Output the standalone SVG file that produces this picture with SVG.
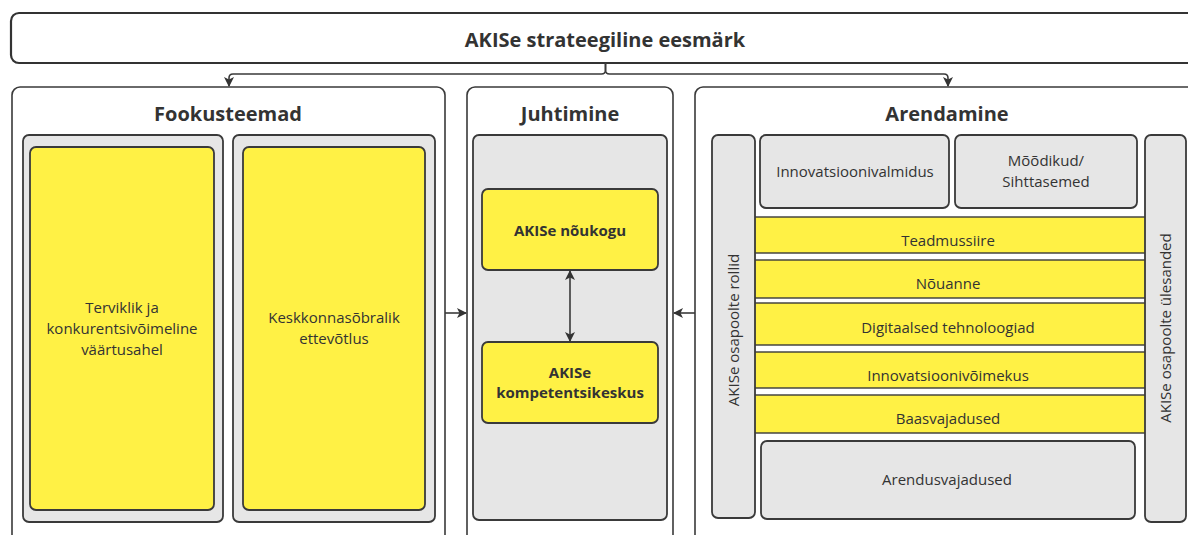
<svg xmlns="http://www.w3.org/2000/svg" width="1188" height="535" viewBox="0 0 1188 535">
<defs>
<marker id="ah" viewBox="0 0 10 10" refX="9" refY="5" markerWidth="10" markerHeight="10" markerUnits="userSpaceOnUse" orient="auto-start-reverse">
<path d="M0,0 L10,5 L0,10 L2.5,5 Z" fill="#333"/>
</marker>
<style>
.panel{fill:#fff;stroke:#3a3a3a;stroke-width:1.6}
.gray{fill:#e6e6e6;stroke:#3a3a3a;stroke-width:1.8}
.yel{fill:#fff145;stroke:#3a3a3a;stroke-width:1.8}
.band{fill:#fff145;stroke:#3a3a3a;stroke-width:1.4}
.conn{fill:none;stroke:#3a3a3a;stroke-width:1.6}
text{font-family:"Open Sans","Noto Sans","Liberation Sans",sans-serif;fill:#333;text-anchor:middle}
.t{font-size:15px}
.b{font-size:15px;font-weight:bold}
.h{font-size:20px;font-weight:bold}
</style>
</defs>
<rect width="1188" height="535" fill="#fff"/>

<g id="goal">
<rect x="11" y="13" width="1200" height="50" rx="8" fill="#fff" stroke="#333" stroke-width="2.2"/>
<text class="h" x="605" y="47">AKISe strateegiline eesmärk</text>
</g>

<g id="fookusteemad">
<rect class="panel" x="12" y="87" width="433" height="470" rx="8"/>
<text class="h" x="228" y="121">Fookusteemad</text>
<rect class="gray" x="23" y="135" width="200" height="387" rx="6"/>
<rect class="gray" x="233" y="135" width="202" height="387" rx="6"/>
<g id="terviklik">
<rect class="yel" x="30" y="147" width="184" height="363" rx="6"/>
<text class="t" x="122" y="313">Terviklik ja</text>
<text class="t" x="122" y="334">konkurentsivõimeline</text>
<text class="t" x="122" y="355">väärtusahel</text>
</g>
<g id="keskkonnasobralik">
<rect class="yel" x="243" y="147" width="182" height="363" rx="6"/>
<text class="t" x="334" y="323">Keskkonnasõbralik</text>
<text class="t" x="334" y="344">ettevõtlus</text>
</g>
</g>

<g id="juhtimine">
<rect class="panel" x="467" y="87" width="206" height="470" rx="8"/>
<text class="h" x="570" y="121">Juhtimine</text>
<rect class="gray" x="473" y="135" width="194" height="385" rx="6"/>
<g id="noukogu">
<rect class="yel" x="482" y="189" width="176" height="81" rx="6"/>
<text class="b" x="570" y="236">AKISe nõukogu</text>
</g>
<g id="kompetentsikeskus">
<rect class="yel" x="482" y="342" width="176" height="81" rx="6"/>
<text class="b" x="570" y="378">AKISe</text>
<text class="b" x="570" y="398">kompetentsikeskus</text>
</g>
</g>

<g id="arendamine">
<rect class="panel" x="695" y="87" width="520" height="470" rx="8"/>
<text class="h" x="947" y="121">Arendamine</text>
<g id="innovatsioonivalmidus">
<rect class="gray" x="760" y="135" width="189" height="73" rx="6"/>
<text class="t" x="855" y="177">Innovatsioonivalmidus</text>
</g>
<g id="moodikud">
<rect class="gray" x="955" y="135" width="182" height="73" rx="6"/>
<text class="t" x="1046" y="166">Mõõdikud/</text>
<text class="t" x="1046" y="187">Sihttasemed</text>
</g>
<g id="teadmussiire">
<rect class="band" x="750" y="217" width="400" height="36"/>
<text class="t" x="948" y="246">Teadmussiire</text>
</g>
<g id="nouanne">
<rect class="band" x="750" y="260" width="400" height="38"/>
<text class="t" x="948" y="289">Nõuanne</text>
</g>
<g id="digitaalsed">
<rect class="band" x="750" y="303" width="400" height="42"/>
<text class="t" x="948" y="333">Digitaalsed tehnoloogiad</text>
</g>
<g id="innovatsioonivoimekus">
<rect class="band" x="750" y="352" width="400" height="36"/>
<text class="t" x="948" y="381">Innovatsioonivõimekus</text>
</g>
<g id="baasvajadused">
<rect class="band" x="750" y="395" width="400" height="38"/>
<text class="t" x="948" y="424">Baasvajadused</text>
</g>
<g id="arendusvajadused">
<rect class="gray" x="761" y="441" width="374" height="78" rx="6"/>
<text class="t" x="947" y="485">Arendusvajadused</text>
</g>
<g id="rollid">
<rect class="gray" x="712" y="135" width="43" height="383" rx="6"/>
<text class="t" transform="translate(733.5,330) rotate(-90)" y="5">AKISe osapoolte rollid</text>
</g>
<g id="ulesanded">
<rect class="gray" x="1145" y="135" width="41" height="387" rx="6"/>
<text class="t" transform="translate(1165.5,328) rotate(-90)" y="5">AKISe osapoolte ülesanded</text>
</g>
</g>

<g id="connectors">
<path class="conn" d="M605.5 63 V70 Q605.5 74 601.5 74 H233 Q229 74 229 78 V86" marker-end="url(#ah)"/>
<path class="conn" d="M605.5 63 V70 Q605.5 74 609.5 74 H944 Q948 74 948 78 V86" marker-end="url(#ah)"/>
<path class="conn" d="M445 313 H466" marker-end="url(#ah)"/>
<path class="conn" d="M695 313 H674" marker-end="url(#ah)"/>
<path class="conn" d="M570 271 V341" marker-start="url(#ah)" marker-end="url(#ah)"/>
</g>
</svg>
